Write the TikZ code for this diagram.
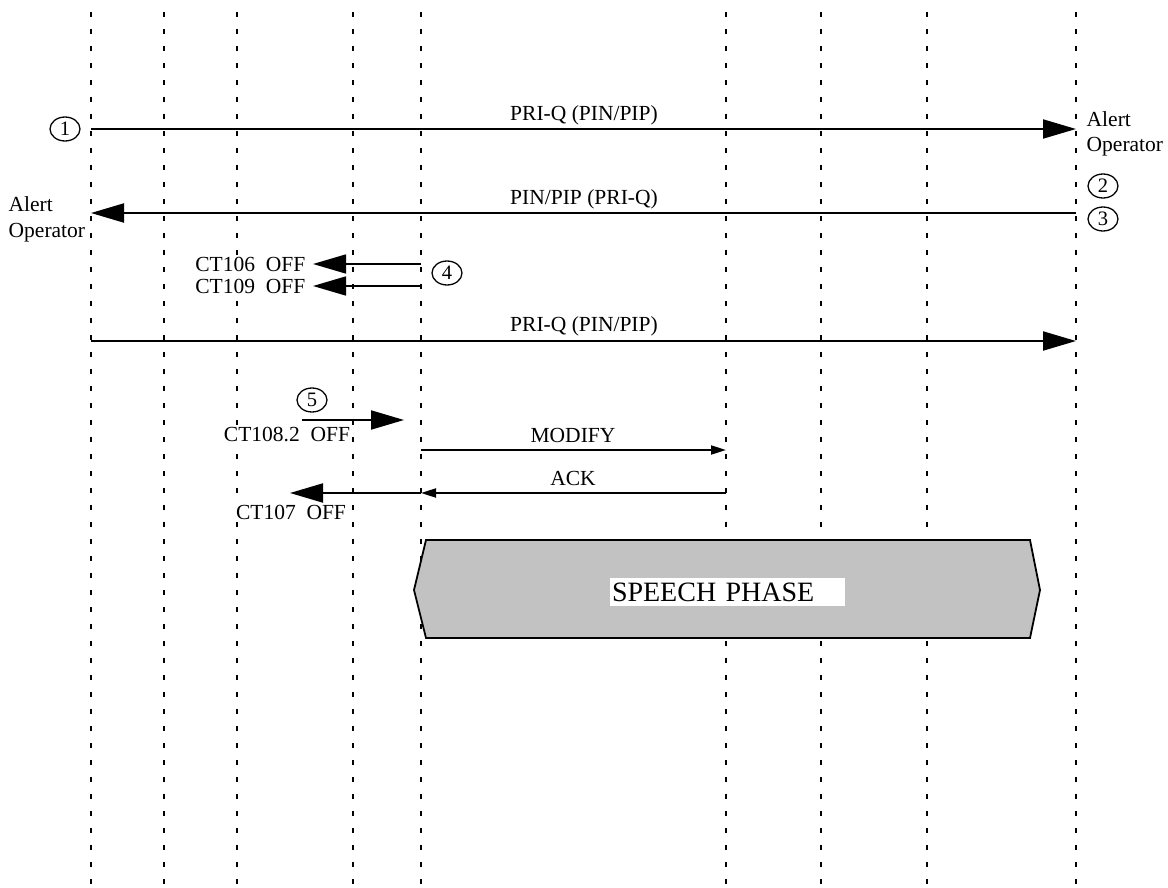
\documentclass[tikz,border=0pt]{standalone}
\usepackage{fontspec}
\setmainfont{Liberation Serif}
\usetikzlibrary{arrows.meta,shapes.geometric}
\begin{document}
\begin{tikzpicture}[x=1pt,y=-1pt,
  lifeline/.style={line width=2pt, dash pattern=on 5pt off 12pt},
  msg/.style={line width=2pt},
  bigtip/.style={-{Triangle[length=33pt,width=19pt]}},
  smalltip/.style={-{Triangle[length=15pt,width=9pt]}},
  lbl/.style={font=\fontsize{21.5}{25}\selectfont, inner sep=0.5pt, fill=white},
  num/.style={ellipse, draw, line width=1.3pt, minimum width=30pt, minimum height=24pt, inner sep=0pt, fill=white, font=\fontsize{20.5}{24}\selectfont},
  speech/.style={draw, line width=1.8pt, fill=black!24}]
\useasboundingbox (0,0) rectangle (1168,888);
% lifelines
\foreach \n/\x in {L1/91,L2/164,L3/237,L4/353,L5/421,L6/726,L7/821,L8/927,L9/1076}{
  \coordinate (\n t) at (\x,12);
  \coordinate (\n b) at (\x,886);
  \draw[lifeline] (\n t) -- (\n b);
}
% message 1
\coordinate (m1a) at (91,129);
\coordinate (m1b) at (1076,129);
\draw[msg,bigtip] (m1a) -- (m1b);
\node[lbl] (t1) at (584,115) {PRI-Q (PIN/PIP)};
\node[num] (c1) at (65,129) {1};
\node[lbl, anchor=west, align=left, font=\fontsize{21.5}{25}\selectfont] (ao1) at (1086,134) {Alert\\Operator};
% message 2
\coordinate (m2a) at (1076,213);
\coordinate (m2b) at (91,213);
\draw[msg,bigtip] (m2a) -- (m2b);
\node[lbl] (t2) at (584,199) {PIN/PIP (PRI-Q)};
\node[lbl, anchor=west, align=left, font=\fontsize{21.5}{26}\selectfont] (ao2) at (8,219) {Alert\\Operator};
\node[num] (c2) at (1103,186) {2};
\node[num] (c3) at (1103,219) {3};
% CT106 / CT109
\coordinate (m3a) at (421,264);
\coordinate (m3b) at (313,264);
\draw[line width=1.6pt,bigtip] (m3a) -- (m3b);
\node[lbl, anchor=east] (t3) at (306,264) {CT106~~OFF};
\coordinate (m4a) at (421,286);
\coordinate (m4b) at (313,286);
\draw[line width=1.6pt,bigtip] (m4a) -- (m4b);
\node[lbl, anchor=east] (t4) at (306,286) {CT109~~OFF};
\node[num] (c4) at (447,273) {4};
% message 5
\coordinate (m5a) at (91,341);
\coordinate (m5b) at (1076,341);
\draw[msg,bigtip] (m5a) -- (m5b);
\node[lbl] (t5) at (584,326) {PRI-Q (PIN/PIP)};
% CT108.2
\node[num] (c5) at (312,400) {5};
\coordinate (m6a) at (302,420);
\coordinate (m6b) at (404,420);
\draw[msg,bigtip] (m6a) -- (m6b);
\node[lbl] (t6) at (287,435) {CT108.2~~OFF};
% MODIFY
\coordinate (m7a) at (421,450);
\coordinate (m7b) at (726,450);
\draw[msg,smalltip] (m7a) -- (m7b);
\node[lbl] (t7) at (573,435) {MODIFY};
% ACK
\coordinate (m8a) at (726,493);
\coordinate (m8b) at (421,493);
\coordinate (m8c) at (290,493);
\draw[msg,smalltip] (m8a) -- (m8b);
\draw[msg,bigtip] (m8b) -- (m8c);
\node[lbl] (t8) at (573,478) {ACK};
\node[lbl] (t9) at (291,512) {CT107~~OFF};
% speech phase
\draw[speech] (414,590) -- (426,540) -- (1030,540) -- (1040,590) -- (1030,638) -- (426,638) -- cycle;
\node[fill=white, inner sep=0pt, minimum width=235pt, minimum height=28pt, text width=231pt, align=left, font=\fontsize{28}{30}\selectfont] (sp) at (727.5,592) {SPEECH PHASE};
\end{tikzpicture}
\end{document}
